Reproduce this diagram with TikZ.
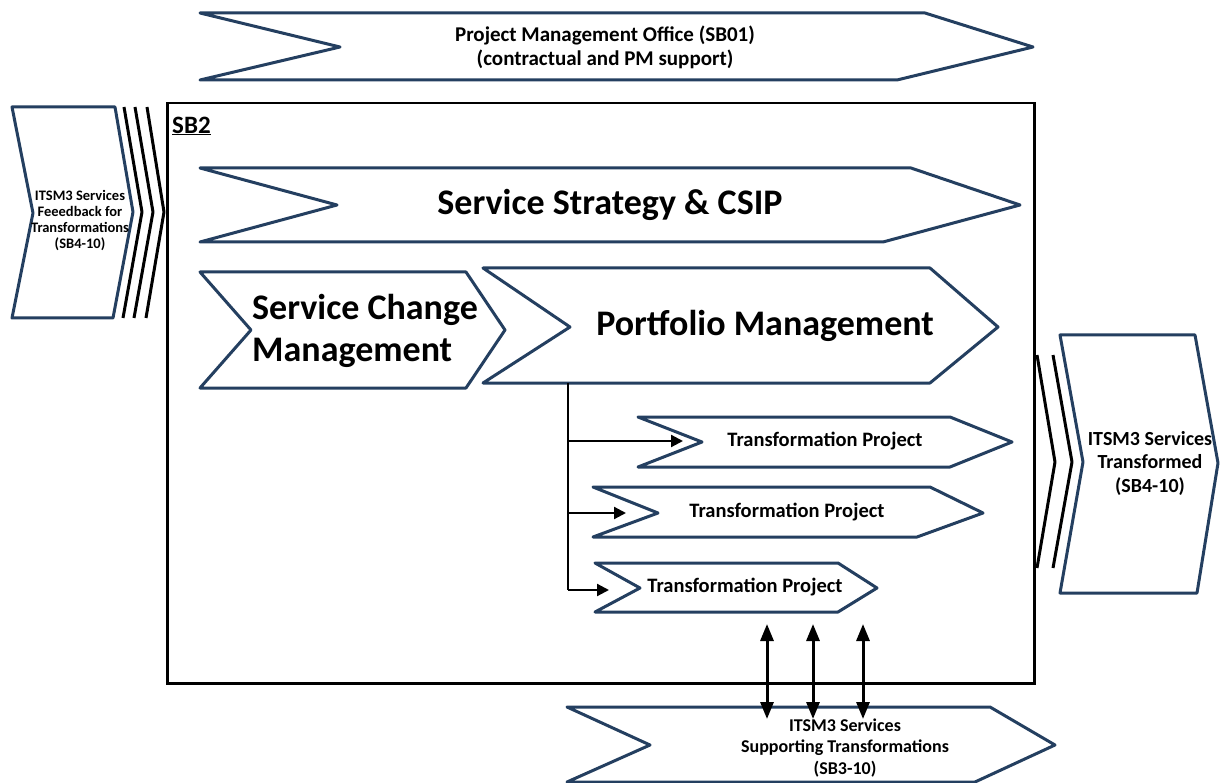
\documentclass[tikz,border=0pt]{standalone}
\usepackage{fontspec}
\setmainfont{Carlito}
\usetikzlibrary{arrows.meta}
\definecolor{chevblue}{RGB}{36,63,96}
\begin{document}
\begin{tikzpicture}[x=1pt,y=-1pt,
  chev/.style={draw=chevblue, line width=3pt, fill=white, line join=round},
  lbl/.style={font=\bfseries, align=center, text=black, inner sep=0pt},
  conn/.style={draw=black, line width=2.2pt},
  stripe/.style={draw=black, line width=3pt, line join=round},
  tipr/.style={-{Triangle[length=12pt,width=12pt]}},
  tipb/.style={{Triangle[length=17pt,width=13pt]}-{Triangle[length=17pt,width=13pt]}, line width=3pt}]
\useasboundingbox (0,0) rectangle (1223,783);

% Project Management Office
\draw[chev] (200,13) -- (925,13) -- (1033,47) -- (897,80) -- (200,80) -- (340,47) -- cycle;
\node[lbl, font=\bfseries\fontsize{21}{24}\selectfont] (pmo) at (605,47)
  {Project Management Office (SB01)\\(contractual and PM support)};

% SB2 frame
\node[draw=black, line width=2.5pt, minimum width=867pt, minimum height=580pt,
  anchor=north west, inner sep=0pt] (sb2) at (166,102) {};
\node[lbl, anchor=west, font=\bfseries\fontsize{25}{28}\selectfont] (sb2lbl) at (172,126) {\underline{SB2}};

% Service Strategy & CSIP
\draw[chev] (200,168) -- (911,168) -- (1020,205) -- (883,242) -- (200,242) -- (337,205) -- cycle;
\node[lbl, font=\bfseries\fontsize{36}{43}\selectfont] (ss) at (610,205) {Service Strategy \& CSIP};

% Service Change Management
\draw[chev] (200,272) -- (466,272) -- (505,330) -- (466,388) -- (200,388) -- (251,330) -- cycle;
\node[lbl, align=left, anchor=west, font=\bfseries\fontsize{36}{42}\selectfont] (scm) at (252,331)
  {Service Change\\Management};

% Portfolio Management
\draw[chev] (483,268) -- (930,268) -- (998,327) -- (930,383) -- (483,383) -- (570,327) -- cycle;
\node[lbl, font=\bfseries\fontsize{36}{43}\selectfont] (pm) at (765,326) {Portfolio Management};

% Transformation Projects
\draw[chev] (638,417) -- (950,417) -- (1012,442) -- (950,467) -- (638,467) -- (702,442) -- cycle;
\node[lbl, font=\bfseries\fontsize{20.5}{24}\selectfont] (tp1) at (825,441) {Transformation Project};
\draw[chev] (593,487) -- (930,487) -- (983,513) -- (917,537) -- (593,537) -- (658,513) -- cycle;
\node[lbl, font=\bfseries\fontsize{20.5}{24}\selectfont] (tp2) at (787,512) {Transformation Project};
\draw[chev] (595,563) -- (838,563) -- (877,588) -- (838,612) -- (595,612) -- (640,588) -- cycle;
\node[lbl, font=\bfseries\fontsize{20.5}{24}\selectfont] (tp3) at (745,587) {Transformation Project};

% trunk and branches
\coordinate (t0) at (568,383);
\coordinate (b1) at (568,441);
\coordinate (b2) at (568,513);
\coordinate (b3) at (568,590);
\coordinate (e1) at (683,441);
\coordinate (e2) at (626,513);
\coordinate (e3) at (609,590);
\draw[conn] (t0) -- (b3);
\draw[conn, tipr] (b1) -- (e1);
\draw[conn, tipr] (b2) -- (e2);
\draw[conn, tipr] (b3) -- (e3);

% Bottom: supporting transformations
\draw[chev] (567,707) -- (990,707) -- (1055,745) -- (975,782) -- (567,782) -- (650,745) -- cycle;
\node[lbl, font=\bfseries\fontsize{18}{21.5}\selectfont] (sup) at (845,748)
  {ITSM3 Services\\Supporting Transformations\\(SB3-10)};

% bidirectional arrows
\coordinate (u1) at (767,624);
\coordinate (u2) at (813,624);
\coordinate (u3) at (863,624);
\coordinate (d1) at (767,719);
\coordinate (d2) at (813,719);
\coordinate (d3) at (863,719);
\draw[tipb] (u1) -- (d1);
\draw[tipb] (u2) -- (d2);
\draw[tipb] (u3) -- (d3);

% Left: feedback
\draw[chev] (12,107) -- (115,107) -- (133,212) -- (113,318) -- (12,318) -- (33,213) -- cycle;
\node[lbl, font=\bfseries\fontsize{14.5}{16}\selectfont] (fb) at (80,221)
  {ITSM3 Services\\Feeedback for\\Transformations\\(SB4-10)};
\draw[stripe] (124,107) -- (142,212) -- (123,318);
\draw[stripe] (135,107) -- (153,212) -- (134,318);
\draw[stripe] (147,107) -- (164,212) -- (146,318);

% Right: transformed
\draw[chev] (1060,335) -- (1195,335) -- (1218,463) -- (1197,593) -- (1060,593) -- (1083,462) -- cycle;
\node[lbl, font=\bfseries\fontsize{20}{23.5}\selectfont] (tr) at (1150,463)
  {ITSM3 Services\\Transformed\\(SB4-10)};
\draw[stripe] (1037,355) -- (1055,462) -- (1037,568);
\draw[stripe] (1053,355) -- (1072,462) -- (1053,568);
\end{tikzpicture}
\end{document}
